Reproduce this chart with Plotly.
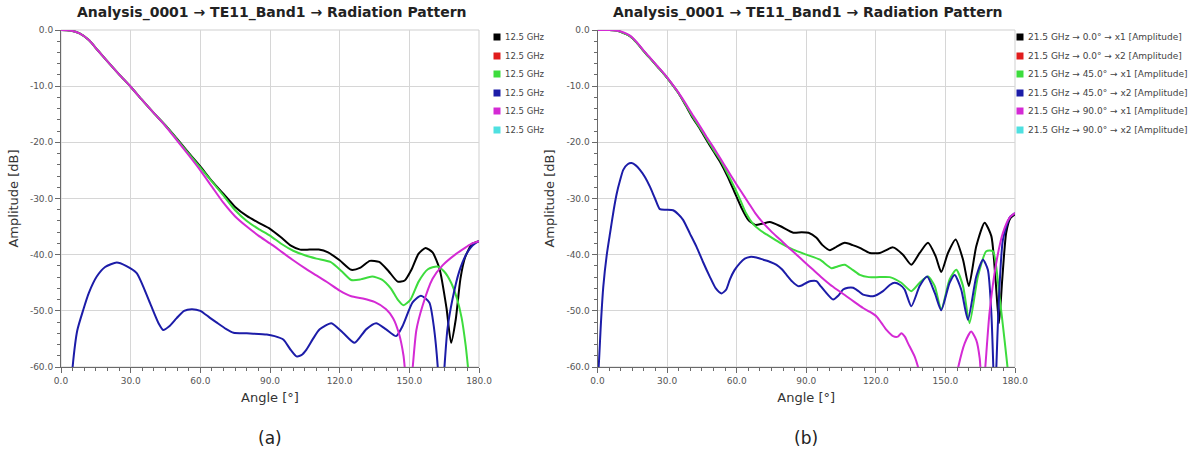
import plotly.graph_objects as go

W, H = 1191, 461

# ---------------- Panel (a): 12.5 GHz ----------------
a_black_ang = [0, 4, 8, 12, 16, 20, 25, 30, 35, 40, 45, 50, 55, 60, 65, 70, 75, 80, 85, 90, 95, 99, 103, 107, 111, 115,
               120, 125, 129, 133, 137, 141, 145, 148, 151, 154, 157, 160, 163, 166, 168, 170, 172, 174, 177, 180]
a_black_db = [0, -0.1, -0.6, -1.8, -3.7, -5.6, -7.9, -10.1, -12.5, -14.8, -17.0, -19.4, -21.9, -24.3, -26.9, -29.2,
              -31.5, -33.1, -34.3, -35.4, -37.0, -38.4, -39.1, -39.1, -39.1, -39.6, -41.0, -42.7, -42.3, -41.1, -41.3,
              -42.9, -44.8, -44.6, -42.6, -39.8, -38.8, -39.6, -42.5, -49.5, -55.7, -51.5, -44.3, -40.5, -38.1, -37.6]

a_red_ang = [0, 180]
a_red_db = [-200, -200]

a_green_ang = [0, 4, 8, 12, 16, 20, 25, 30, 35, 40, 45, 50, 55, 60, 65, 70, 75, 80, 85, 90, 95, 100, 105, 110, 116,
               121, 125, 129, 134, 138, 142, 145, 147.5, 150.5, 154, 158, 162, 165, 168, 170.5, 172.5, 174.3, 176, 178]
a_green_db = [0, -0.1, -0.6, -1.8, -3.7, -5.6, -7.9, -10.1, -12.5, -14.8, -17.0, -19.5, -22.0, -24.5, -27.0, -29.5,
              -32.1, -34.0, -35.4, -36.6, -38.1, -39.3, -40.1, -40.7, -41.3, -43.0, -44.5, -44.4, -43.9, -44.4, -46.0,
              -48.0, -49.0, -48.0, -44.8, -42.6, -42.1, -43.0, -45.0, -47.8, -51.2, -56.3, -63, -70]

a_blue_ang = [4, 5, 7, 9.6, 12, 15.4, 19, 24, 28, 32.6, 38.3, 42, 44, 46.5, 49.8, 53, 56.3, 60, 64, 67.1, 71, 74.3,
              80, 88.6, 92, 95.7, 99, 101.4, 103.5, 105.7, 108.5, 111.4, 116.4, 121.4, 126.4, 131.4, 135.7, 140,
              144.3, 147.1, 151.4, 155, 158.6, 160.7, 162.6, 163.6, 164.8, 166.4, 168.6, 171.4, 174.3, 177.1, 180]
a_blue_db = [-66, -60, -53.5, -49.8, -46.8, -43.9, -42.2, -41.4, -42.0, -43.3, -48.6, -52.2, -53.4, -52.8, -51.3,
             -50.0, -49.7, -50.0, -51.2, -52.1, -53.2, -53.9, -54.0, -54.2, -54.5, -55.1, -57.0, -58.1, -57.9, -56.9,
             -55.0, -53.3, -52.2, -53.9, -55.7, -53.3, -52.2, -53.3, -54.5, -52.7, -48.5, -47.3, -48.5, -53.3, -62,
             -70, -62, -53.3, -47.9, -43.1, -40.1, -38.4, -37.6]

a_magenta_ang = [0, 4, 8, 12, 16, 20, 25, 30, 35, 40, 45, 50, 55, 60, 65, 70, 75, 80, 85, 90, 95, 100, 105, 110, 115,
                 120, 125, 130, 135, 140, 143, 145.5, 147.5, 149.5, 151, 153, 155.7, 160, 164.3, 170, 174.3, 177, 180]
a_magenta_db = [0, -0.1, -0.6, -1.8, -3.7, -5.6, -7.9, -10.1, -12.5, -14.8, -17.1, -19.7, -22.3, -25.0, -27.9, -30.8,
                -33.2, -35.0, -36.6, -38.0, -39.5, -41.0, -42.4, -43.7, -45.0, -46.4, -47.4, -47.8, -48.4, -49.7,
                -51.3, -54.0, -58.0, -66, -62, -53.5, -49.1, -44.3, -41.9, -39.9, -38.7, -38.0, -37.6]

a_cyan_ang = [0, 180]
a_cyan_db = [-200, -200]

# ---------------- Panel (b): 21.5 GHz ----------------
b_black_ang = [0, 5, 8, 11, 14, 17, 20, 23, 26, 29, 32, 35, 38, 41, 44, 47, 50, 53, 56, 59, 62, 65, 68, 71, 74.3,
               78.7, 84.4, 88, 91, 94.4, 97, 100.2, 103, 106.6, 110, 113.1, 117.4, 121.7, 124.5, 127.4, 131.7, 135.3,
               138.9, 142.5, 145.8, 148.2, 151.1, 154.4, 157.6, 160.1, 163.3, 166.9, 169.8, 171.6, 173.1, 174.5,
               176.2, 178, 180]
b_black_db = [0, 0, -0.1, -0.5, -1.1, -2.3, -3.8, -5.2, -6.6, -8.0, -9.6, -11.3, -13.4, -15.6, -17.5, -19.6, -21.6,
              -23.6, -26.0, -28.8, -31.6, -33.8, -34.7, -34.5, -34.2, -34.9, -36.1, -36.0, -36.1, -37.0, -38.3, -39.2,
              -38.6, -37.9, -38.3, -38.8, -39.7, -39.7, -39.2, -38.7, -40.0, -41.8, -39.7, -37.9, -40.3, -43.1,
              -39.7, -37.3, -40.9, -45.6, -38.5, -34.3, -36.7, -44.4, -52.2, -44.4, -36.1, -33.5, -32.8]

b_red_ang = [0, 180]
b_red_db = [-200, -200]

b_green_ang = [0, 5, 8, 11, 14, 17, 20, 23, 26, 29, 32, 35, 38, 41, 44, 47, 50, 53, 56, 59, 61.4, 64, 67.2, 70, 72.9,
               78.7, 84.4, 90.1, 95.9, 100.9, 103.5, 106.6, 110, 113.1, 117, 120.3, 126, 131, 135.3, 138.9, 142.5,
               145.4, 148.2, 151.8, 154.7, 157.6, 160.4, 164, 167.6, 170.5, 173.3, 175.5, 177, 179]
b_green_db = [0, 0, -0.1, -0.5, -1.1, -2.3, -3.8, -5.2, -6.6, -8.0, -9.6, -11.3, -13.3, -15.4, -17.3, -19.3, -21.3,
              -23.2, -25.5, -28.0, -30.1, -32.6, -34.6, -35.6, -36.4, -37.9, -39.1, -40.0, -40.9, -42.4, -42.1, -41.8,
              -42.7, -43.6, -44.0, -44.0, -44.0, -45.0, -46.5, -45.0, -43.9, -45.6, -49.8, -44.4, -42.7, -45.6, -52.2,
              -43.9, -39.4, -39.4, -47.4, -55.2, -61, -72]

b_blue_ang = [0, 0.5, 1.5, 2.5, 4, 5.4, 7, 8.3, 9.7, 11.1, 13, 14.7, 16.5, 18.3, 20.5, 22.6, 24.8, 26.9, 29.5, 32.6,
              34.8, 36.9, 39.8, 42.7, 45.5, 48.4, 51, 53.5, 55.5, 57.1, 59, 61.4, 63.5, 65.7, 68.5, 71.5, 74.5, 77.2,
              79.5, 81.5, 84, 86.5, 88, 90.1, 92, 94.4, 96, 98, 101.6, 103.8, 105.9, 108, 110.2, 112.5, 114.5, 118.8,
              123.1, 126, 128.1, 130.5, 132.4, 135.3, 138.9, 142.1, 145.4, 148.2, 151.8, 154, 156.8, 159.7, 163.3,
              166.2, 168.3, 169.8, 170.8, 171.3, 171.8, 173.1, 174.8, 177.7, 180]
b_blue_db = [-62, -60, -52, -45.7, -40.0, -36.2, -32.0, -29.1, -26.8, -24.9, -23.9, -23.7, -24.1, -24.9, -26.2, -27.9,
             -30.0, -31.9, -32.0, -32.1, -32.8, -33.8, -36.2, -38.6, -41.3, -43.9, -46.0, -46.9, -46.2, -44.4, -42.8,
             -41.5, -40.7, -40.4, -40.5, -40.9, -41.3, -41.8, -42.6, -43.6, -44.8, -45.6, -45.5, -45.0, -44.7, -44.7,
             -45.5, -46.5, -48.0, -47.3, -46.2, -45.9, -45.9, -46.5, -47.1, -47.4, -46.5, -45.4, -45.0, -45.4, -46.2,
             -49.2, -45.6, -43.9, -46.8, -49.9, -45.0, -43.6, -46.2, -51.6, -43.9, -40.9, -42.7, -50.4, -62, -70,
             -62, -47.4, -37.3, -33.4, -32.6]

b_magenta_ang = [0, 5, 8, 11, 14, 17, 20, 23, 26, 29, 32, 35, 38, 41, 44, 47, 50, 53, 56, 59, 62, 65, 68, 71.5, 75,
                 78.7, 82, 85.8, 89, 93, 96.5, 100.2, 103.5, 107.3, 111, 114.5, 117.5, 120.3, 122.5, 124.6, 127.4,
                 129.5, 131, 132.5, 133.9, 136.8, 138.6, 140.5, 142.5, 144, 145.3, 147, 151, 155, 158.3, 161.1, 163.3,
                 164.8, 166, 167.2, 169, 171.9, 174.8, 177.7, 180]
b_magenta_db = [0, 0, -0.1, -0.4, -1.0, -2.2, -3.7, -5.1, -6.5, -7.9, -9.5, -11.2, -13.1, -15.1, -17.0, -19.0, -20.9,
                -22.9, -24.9, -26.9, -28.8, -30.7, -32.6, -34.4, -35.9, -37.3, -38.6, -40.0, -41.2, -42.7, -44.0,
                -45.3, -46.3, -47.4, -48.5, -49.5, -50.2, -51.0, -52.2, -53.4, -54.5, -54.6, -54.0, -54.6, -55.8,
                -58.2, -60.6, -64, -62, -60.2, -61, -66, -70, -61, -55.8, -53.7, -55.2, -58.5, -66, -60, -50.4,
                -41.5, -36.1, -33.4, -32.6]

b_cyan_ang = [0, 180]
b_cyan_db = [-200, -200]

# ---------------- Text ----------------
title_text = "Analysis_0001 \u2192 TE11_Band1 \u2192 Radiation Pattern"
x_title = "Angle [\u00b0]"
y_title = "Amplitude [dB]"
panel_labels = ["(a)", "(b)"]
legend_a = ["12.5 GHz", "12.5 GHz", "12.5 GHz", "12.5 GHz", "12.5 GHz", "12.5 GHz"]
legend_b = ["21.5 GHz \u2192 0.0\u00b0 \u2192 x1 [Amplitude]",
            "21.5 GHz \u2192 0.0\u00b0 \u2192 x2 [Amplitude]",
            "21.5 GHz \u2192 45.0\u00b0 \u2192 x1 [Amplitude]",
            "21.5 GHz \u2192 45.0\u00b0 \u2192 x2 [Amplitude]",
            "21.5 GHz \u2192 90.0\u00b0 \u2192 x1 [Amplitude]",
            "21.5 GHz \u2192 90.0\u00b0 \u2192 x2 [Amplitude]"]
x_tickvals = [0, 30, 60, 90, 120, 150, 180]
x_ticktext = ["0.0", "30.0", "60.0", "90.0", "120.0", "150.0", "180.0"]
y_tickvals = [0, -10, -20, -30, -40, -50, -60]
y_ticktext = ["0.0", "-10.0", "-20.0", "-30.0", "-40.0", "-50.0", "-60.0"]

colors = ["#000000", "#e01c1c", "#3ddc3d", "#1c1ca8", "#d42ad4", "#4fe0e0"]

FONT = "DejaVu Sans"

fig = go.Figure()

panel_a = [(a_black_ang, a_black_db), (a_red_ang, a_red_db), (a_green_ang, a_green_db),
           (a_blue_ang, a_blue_db), (a_magenta_ang, a_magenta_db), (a_cyan_ang, a_cyan_db)]
panel_b = [(b_black_ang, b_black_db), (b_red_ang, b_red_db), (b_green_ang, b_green_db),
           (b_blue_ang, b_blue_db), (b_magenta_ang, b_magenta_db), (b_cyan_ang, b_cyan_db)]

for i, (xs, ys) in enumerate(panel_a):
    fig.add_trace(go.Scatter(x=xs, y=ys, mode="lines", name=legend_a[i], showlegend=False,
                             line=dict(color=colors[i], width=2, shape="spline", smoothing=0.6),
                             xaxis="x", yaxis="y"))
for i, (xs, ys) in enumerate(panel_b):
    fig.add_trace(go.Scatter(x=xs, y=ys, mode="lines", name=legend_b[i], showlegend=False,
                             line=dict(color=colors[i], width=2, shape="spline", smoothing=0.6),
                             xaxis="x2", yaxis="y2"))

# geometry (pixels)
ax_left = [61, 479]
ax_right = [597.5, 1015]
ax_top, ax_bot = 30, 367

def px(x):
    return x / W

def py(y):
    return 1 - y / H

def axis_common(tickvals, ticktext, minor_dtick):
    return dict(
        tickmode="array", tickvals=tickvals, ticktext=ticktext,
        showline=True, linecolor="#6a6a6a", linewidth=1,
        ticks="outside", ticklen=5, tickcolor="#6a6a6a", tickwidth=1,
        minor=dict(dtick=minor_dtick, ticks="outside", ticklen=3, tickcolor="#6a6a6a", showgrid=False),
        showgrid=True, gridcolor="#d6d6d6", gridwidth=1, zeroline=False,
        tickfont=dict(family=FONT, size=9, color="#555555"),
        fixedrange=True, automargin=False,
    )

xa = axis_common(x_tickvals, x_ticktext, 5)
ya = axis_common(y_tickvals, y_ticktext, 2)
title_font = dict(family=FONT, size=13, color="#333333")

layout = dict(
    width=W, height=H, margin=dict(l=0, r=0, t=0, b=0, pad=0, autoexpand=False),
    paper_bgcolor="white", plot_bgcolor="white", showlegend=False,
    xaxis=dict(xa, domain=[px(ax_left[0]), px(ax_left[1])], range=[0, 180], anchor="y",
               title=dict(text=x_title, font=title_font, standoff=8)),
    yaxis=dict(ya, domain=[py(ax_bot), py(ax_top)], range=[-60, 0], anchor="x",
               title=dict(text=y_title, font=title_font, standoff=8)),
    xaxis2=dict(xa, domain=[px(ax_right[0]), px(ax_right[1])], range=[0, 180], anchor="y2",
                title=dict(text=x_title, font=title_font, standoff=8)),
    yaxis2=dict(ya, domain=[py(ax_bot), py(ax_top)], range=[-60, 0], anchor="x2",
                title=dict(text=y_title, font=title_font, standoff=8)),
)
fig.update_layout(**layout)

shapes = []
annotations = []
# light frame around plot areas
for xr, yr in [("x domain", "y domain"), ("x2 domain", "y2 domain")]:
    shapes.append(dict(type="rect", xref=xr, yref=yr, x0=0, x1=1, y0=0, y1=1,
                       line=dict(color="#cfcfcf", width=1), layer="below"))

# titles and panel labels
for (l, r), lab in zip([ax_left, ax_right], panel_labels):
    cx = (l + r) / 2
    annotations.append(dict(text="<b>" + title_text + "</b>", x=px(cx + 2), y=py(13), xref="paper", yref="paper",
                            showarrow=False, xanchor="center", yanchor="middle",
                            font=dict(family=FONT, size=14, color="#222222")))
    annotations.append(dict(text=lab, x=px(cx), y=py(438), xref="paper", yref="paper",
                            showarrow=False, xanchor="center", yanchor="middle",
                            font=dict(family=FONT, size=17, color="#222222")))

# legends (square swatch + label)
row_y = [37, 56, 74, 93, 111, 130]
for sx, labels, fs in [(497, legend_a, 8.5), (1020, legend_b, 9)]:
    for i, lab in enumerate(labels):
        yc = row_y[i]
        shapes.append(dict(type="rect", xref="paper", yref="paper",
                           x0=px(sx - 3.5), x1=px(sx + 3.5), y0=py(yc + 3.5), y1=py(yc - 3.5),
                           fillcolor=colors[i], line=dict(width=0)))
        annotations.append(dict(text=lab, x=px(sx + 6), y=py(yc), xref="paper", yref="paper",
                                showarrow=False, xanchor="left", yanchor="middle",
                                font=dict(family=FONT, size=fs, color="#444444")))

fig.update_layout(shapes=shapes, annotations=annotations)

fig.write_html("out.html")
